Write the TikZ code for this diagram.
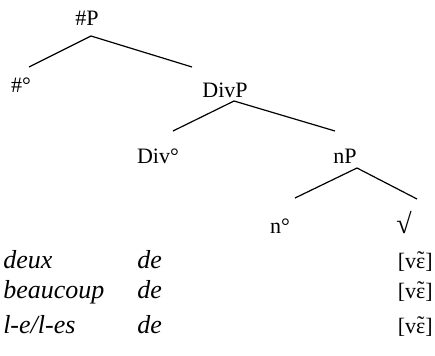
\documentclass[tikz,border=0pt]{standalone}
\usepackage{fontspec}
\setmainfont{Liberation Serif}
\usetikzlibrary{calc}

% nasal vowel: open e with a tilde set over it
\newcommand{\nasalE}{\ooalign{ɛ\cr\hidewidth\raisebox{0.05em}{˜}\hidewidth\cr}}

\tikzset{
  lbl/.style={inner sep=0pt, font=\fontsize{16.5}{19}\selectfont},
  gloss/.style={inner sep=0pt, font=\fontsize{19.5}{22}\selectfont\itshape},
  branch/.style={line width=0.9pt},
}

\begin{document}
\begin{tikzpicture}[x=0.75pt,y=-0.75pt]
  \useasboundingbox (0,0) rectangle (435,356);

  % tree labels (placed at their baselines)
  \node[lbl, anchor=base] (hashP) at (87,26)  {\#P};
  \node[lbl, anchor=base] (hash)  at (21,93)  {\#°};
  \node[lbl, anchor=base] (divP)  at (225,98) {DivP};
  \node[lbl, anchor=base] (div)   at (158,163) {Div°};
  \node[lbl, anchor=base] (nP)    at (345,163) {nP};
  \node[lbl, anchor=base] (n)     at (280,233) {n°};
  \node[lbl, anchor=base, font=\fontsize{21}{24}\selectfont] (root) at (404,233) {√};

  % branches
  \draw[branch] ($(hashP.base)+(4,10)$) -- ($(hash.base)+(8,-26)$);
  \draw[branch] ($(hashP.base)+(4,10)$) -- ($(divP.base)+(-33,-31)$);
  \draw[branch] ($(divP.base)+(9,3)$)   -- ($(div.base)+(15,-32)$);
  \draw[branch] ($(divP.base)+(9,3)$)   -- ($(nP.base)+(-10,-32)$);
  \draw[branch] ($(nP.base)+(12,5)$)    -- ($(n.base)+(15,-35)$);
  \draw[branch] ($(nP.base)+(12,5)$)    -- ($(root.base)+(13,-34)$);

  % examples under the tree
  \node[gloss, anchor=base west] (deux) at (3,268)   {deux};
  \node[gloss, anchor=base west] (beau) at (3,298)   {beaucoup};
  \node[gloss, anchor=base west] (les)  at (3,333)   {l-e/l-es};
  \node[gloss, anchor=base west] (de1)  at (137,268) {de};
  \node[gloss, anchor=base west] (de2)  at (137,298) {de};
  \node[gloss, anchor=base west] (de3)  at (137,333) {de};
  \node[lbl, anchor=base east]   (vin1) at (433,268) {[v\nasalE]};
  \node[lbl, anchor=base east]   (vin2) at (433,298) {[v\nasalE]};
  \node[lbl, anchor=base east]   (vin3) at (433,333) {[v\nasalE]};
\end{tikzpicture}
\end{document}
